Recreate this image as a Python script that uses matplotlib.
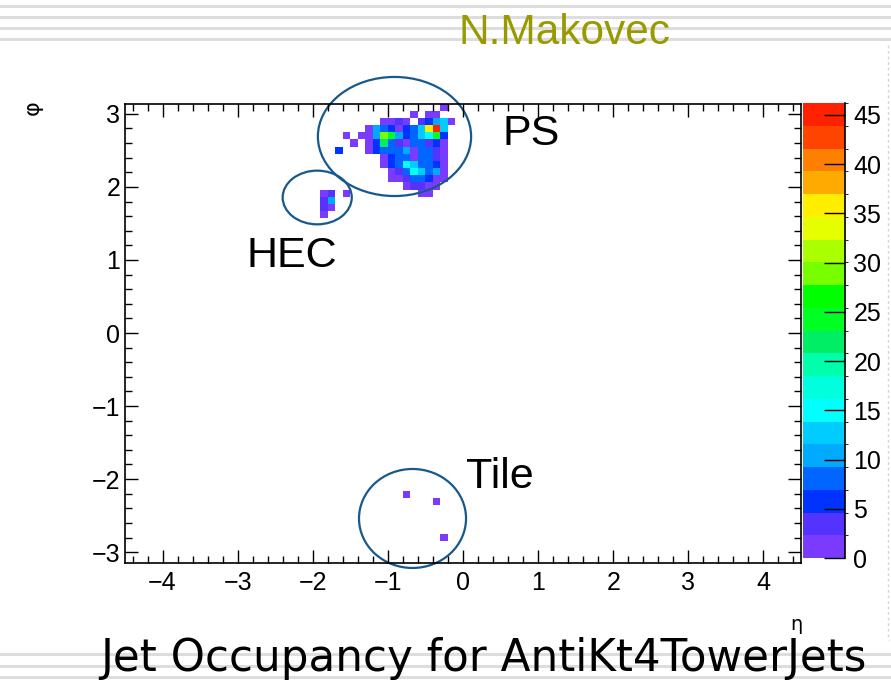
import numpy as np
import matplotlib
matplotlib.use("Agg")
import matplotlib.pyplot as plt
from matplotlib.colors import ListedColormap, BoundaryNorm
from matplotlib.patches import Ellipse
from matplotlib.lines import Line2D

plt.rcParams['font.family'] = ['Liberation Sans', 'DejaVu Sans']

W, H = 891, 682

# binning: 0.1 in eta, 64 bins in phi
eta_edges = np.linspace(-4.5, 4.5, 91)
phi_edges = np.linspace(-np.pi, np.pi, 65)

# PS blob: rows from phi bin 63 downwards, columns from eta bin 28
ps_first_eta = 28
ps_top_phi = 63
ps_counts = [
    [0, 0, 0, 0, 0, 0, 0, 0, 0, 0, 0, 0, 0, 0, 1, 0],
    [0, 0, 0, 0, 0, 0, 0, 0, 0, 0, 2, 0, 2, 1, 0, 0],
    [0, 0, 0, 0, 0, 0, 1, 2, 4, 2, 0, 3, 6, 11, 12, 1],
    [0, 0, 0, 0, 1, 11, 8, 5, 2, 5, 7, 12, 35, 46, 12, 0],
    [0, 1, 0, 1, 2, 11, 29, 24, 10, 5, 7, 13, 15, 25, 6, 0],
    [0, 0, 1, 0, 1, 5, 21, 8, 3, 2, 7, 8, 3, 5, 2, 0],
    [6, 0, 0, 0, 1, 6, 7, 8, 7, 10, 2, 7, 8, 4, 2, 0],
    [0, 0, 0, 0, 0, 0, 2, 6, 7, 8, 2, 7, 7, 4, 2, 0],
    [0, 0, 0, 0, 0, 0, 2, 5, 8, 15, 12, 7, 8, 5, 2, 0],
    [0, 0, 0, 0, 0, 0, 0, 2, 3, 7, 15, 13, 7, 10, 2, 0],
    [0, 0, 0, 0, 0, 0, 0, 1, 2, 4, 7, 7, 6, 2, 2, 0],
    [0, 0, 0, 0, 0, 0, 0, 0, 0, 2, 3, 4, 2, 2, 0, 0],
    [0, 0, 0, 0, 0, 0, 0, 0, 0, 0, 0, 2, 2, 0, 0, 0],
]
# (eta bin, phi bin, entries)
hec_cells = [(26, 51, 2), (27, 51, 4), (29, 51, 1), (26, 50, 3),
             (27, 50, 10), (26, 49, 4), (27, 49, 2), (26, 48, 1)]
tile_cells = [(37, 9, 1), (41, 8, 1), (42, 3, 1)]

z_max = 46.2
palette = ['#7b3bff', '#5533ff', '#0033ff', '#0066ff', '#00aaff',
           '#00ccff', '#00ffff', '#00ffdd', '#00ffaa', '#00ee66',
           '#00ff22', '#00ff00', '#77ff00', '#aaff00', '#e5ff00',
           '#ffee00', '#ffaa00', '#ff7f00', '#ff4400', '#ff2200']

occ = np.zeros((64, 90))
for r, row in enumerate(ps_counts):
    for c, v in enumerate(row):
        occ[ps_top_phi - r, ps_first_eta + c] = v
for i, j, v in hec_cells + tile_cells:
    occ[j, i] = v

fig = plt.figure(figsize=(W / 100, H / 100), dpi=100)

# slide template lines
for y in [6, 17, 28, 39, 654, 665.5, 677]:
    fig.add_artist(Line2D([0, 1], [1 - y / H] * 2, color='#dddddd', lw=2.2, zorder=0))
fig.add_artist(Line2D([888 / W] * 2, [1 - 45 / H, 1 - 640 / H], color='#d5d5d5',
                      lw=1, ls=(0, (2, 2)), zorder=0))

ax = fig.add_axes([125 / W, 1 - 562.5 / H, 676 / W, 459 / H])
cmap = ListedColormap(palette)
norm = BoundaryNorm(np.linspace(0, z_max, 21), cmap.N)
mesh = ax.pcolormesh(eta_edges, phi_edges, np.ma.masked_equal(occ, 0),
                     cmap=cmap, norm=norm)

ax.set_xlim(-4.5, 4.5)
ax.set_ylim(-np.pi, np.pi)
ax.set_xticks(range(-4, 5))
ax.set_xticks(np.round(np.arange(-4.4, 4.5, 0.2), 1), minor=True)
ax.set_yticks(range(-3, 4))
ax.set_yticks(np.round(np.arange(-3.0, 3.1, 0.2), 1), minor=True)
ax.tick_params(which='both', direction='in', top=True, right=True,
               labelsize=18, width=1)
ax.tick_params(which='major', length=9.5)
ax.tick_params(which='minor', length=4.8)
ax.tick_params(axis='x', pad=6)
for s in ax.spines.values():
    s.set_linewidth(1.2)

# circles around the hot regions
ring = dict(fill=False, edgecolor='#17598c', lw=1.6, clip_on=False)
ax.add_patch(Ellipse((-0.912, 2.69), 2.04, 1.63, **ring))
ax.add_patch(Ellipse((-1.941, 1.855), 0.92, 0.735, **ring))
ax.add_patch(Ellipse((-0.672, -2.539), 1.425, 1.355, **ring))

cax = fig.add_axes([803 / W, 1 - 558 / H, 42 / W, 455 / H])
cb = fig.colorbar(mesh, cax=cax, ticks=range(0, 50, 5))
cb.outline.set_visible(False)
cax.tick_params(direction='in', length=15, width=1, labelsize=18, pad=6)
cax.plot([1, 1], [0, 1], transform=cax.transAxes, color='black', lw=1.2, clip_on=False)

def fpos(x, y):
    return x / W, 1 - y / H

fig.text(*fpos(458, 43.5), 'N.Makovec', color='#999900', fontsize=30.5, va='baseline')
fig.text(*fpos(503, 145), 'PS', fontsize=31, va='baseline')
fig.text(*fpos(246, 267), 'HEC', fontsize=31, va='baseline')
fig.text(*fpos(466, 488), 'Tile', fontsize=31, va='baseline')
title = fig.text(*fpos(100, 671), 'Jet Occupancy for AntiKt4TowerJets', fontsize=30,
                 va='baseline', family='DejaVu Sans')
fig.text(*fpos(796, 624), 'η', fontsize=14, ha='center', va='center',
         family='DejaVu Sans')
fig.text(*fpos(33, 108), 'φ', fontsize=16, ha='center', va='center',
         rotation=90, family='DejaVu Sans')

# stretch the slide title to the width it has on the slide
fig.canvas.draw()
tw = title.get_window_extent().width
title.set_fontsize(30 * 766 / tw)

fig.savefig('out.png', dpi=100)
